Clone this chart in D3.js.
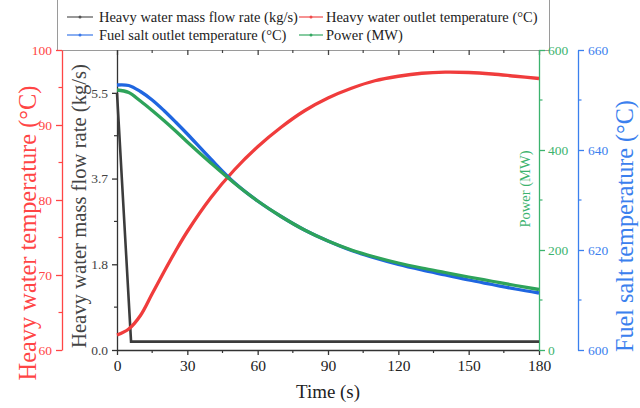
<!DOCTYPE html>
<html>
<head>
<meta charset="utf-8">
<script src="https://cdn.jsdelivr.net/npm/d3@7/dist/d3.min.js"></script>
<style>
  html, body { margin: 0; padding: 0; background: #fff; }
  svg { display: block; font-family: "Liberation Serif", "Times New Roman", serif; }
</style>
</head>
<body>
<svg id="chart" width="640" height="408"></svg>
<script>
// ---- data ----
const time = [0, 5, 10, 15, 20, 25, 30, 40, 50, 60, 70, 80, 90, 100, 110, 120, 130, 140, 150, 160, 170, 180];
const fuelSaltTemp = [653.0, 652.9, 651.7, 650.0, 647.9, 645.6, 643.2, 638.2, 633.5, 629.8, 626.7, 624.0, 621.8, 619.9, 618.4, 617.1, 616.0, 615.0, 614.0, 613.1, 612.2, 611.4];
const power = [520, 515, 498, 479, 459, 438, 416, 374, 334, 298, 267, 240, 218, 200, 186, 174, 164, 155, 146, 137.5, 129, 121];
const heavyWaterTemp = [62.0, 62.8, 64.6, 67.5, 70.4, 73.2, 75.8, 80.3, 84.0, 87.1, 89.7, 91.9, 93.6, 94.9, 95.9, 96.5, 96.9, 97.05, 97.0, 96.8, 96.5, 96.2];
const flowTime = [0, 6, 180];
const flowRate = [5.5, 0.18, 0.18];

const timeTicks = [0, 30, 60, 90, 120, 150, 180];
const timeMinor = [15, 45, 75, 105, 135, 165];
const redTicks = [60, 70, 80, 90, 100];
const redMinor = [65, 75, 85, 95];
const flowTicks = [0, 11/6, 22/6, 5.5];
const flowMinor = [11/12, 33/12, 55/12];
const powerTicks = [0, 200, 400, 600];
const powerMinor = [100, 300, 500];
const saltTicks = [600, 620, 640, 660];
const saltMinor = [610, 630, 650];

const legendItems = [
  {label: "Heavy water mass flow rate (kg/s)", color: "#555555"},
  {label: "Heavy water outlet temperature (°C)", color: "#f04a4a"},
  {label: "Fuel salt outlet temperature (°C)", color: "#3a78e8"},
  {label: "Power (MW)", color: "#35a862"}
];

// ---- colors ----
const cRed = "#f03c3c", cBlue = "#1f66e0", cGreen = "#2ea35a", cBlack = "#3c3c3c";
const aRed = "#ff4545", aBlue = "#3b80ee", aGreen = "#3cb36e", aBlack = "#333333";

const svg = d3.select("#chart");
const L = 117, R = 539, T = 50, B = 350;

const x = d3.scaleLinear().domain([0, 180]).range([L, R]);
const yRed = d3.scaleLinear().domain([60, 100]).range([B, T]);
const yFlow = d3.scaleLinear().domain([0, 3.5 * 11/6]).range([B, T]);
const yPow = d3.scaleLinear().domain([0, 600]).range([B, T]);
const ySalt = d3.scaleLinear().domain([600, 660]).range([B, T]);

function fit(sel, target) {
  const w = sel.node().getComputedTextLength();
  const fs = parseFloat(sel.attr("font-size"));
  if (w > 0) sel.attr("font-size", (fs * target / w).toFixed(2));
  return sel;
}

// legend box
svg.append("rect").attr("x", 57.5).attr("y", -5).attr("width", 492).attr("height", 55.5)
  .attr("fill", "#fff").attr("stroke", "#9a9a9a").attr("stroke-width", 1);

function axisStyle(g, color) {
  g.select(".domain").attr("stroke", color).attr("stroke-width", 1.3);
  g.selectAll(".tick line").attr("stroke", color).attr("stroke-width", 1.3);
  g.selectAll(".tick text").attr("fill", color).attr("font-family", "Liberation Serif, serif");
}
function minorTicks(g, scale, vals, orient, len, color) {
  g.selectAll(null).data(vals).enter().append("line")
    .attr("stroke", color).attr("stroke-width", 1.2)
    .each(function(d) {
      const s = d3.select(this);
      const p = scale(d);
      if (orient === "left") s.attr("x1", 0).attr("x2", -len).attr("y1", p).attr("y2", p);
      if (orient === "right") s.attr("x1", 0).attr("x2", len).attr("y1", p).attr("y2", p);
      if (orient === "bottom" || orient === "top") s.attr("y1", 0).attr("y2", len).attr("x1", p).attr("x2", p);
    });
}

// top frame with inward ticks
const gTop = svg.append("g").attr("transform", `translate(0,${T})`)
  .call(d3.axisBottom(x).tickValues(timeTicks).tickSize(5).tickSizeOuter(0).tickFormat(""));
axisStyle(gTop, "#444");
gTop.select(".domain").remove();
minorTicks(gTop, x, timeMinor, "top", 3, "#444");

// bottom axis
const gBot = svg.append("g").attr("transform", `translate(0,${B})`)
  .call(d3.axisBottom(x).tickValues(timeTicks).tickSize(5).tickSizeOuter(0).tickPadding(5));
axisStyle(gBot, aBlack);
gBot.selectAll(".tick text").attr("font-size", 15.5).attr("fill", "#222");
minorTicks(gBot, x, timeMinor, "bottom", 3, aBlack);

// red axis (left outer)
const gRed = svg.append("g").attr("transform", `translate(62,0)`)
  .call(d3.axisLeft(yRed).tickValues(redTicks).tickSize(6).tickSizeOuter(0).tickPadding(4));
axisStyle(gRed, aRed);
gRed.selectAll(".tick text").attr("font-size", 13.5);
minorTicks(gRed, yRed, redMinor, "left", 3.5, aRed);

// black flow axis
const gFlow = svg.append("g").attr("transform", `translate(${L},0)`)
  .call(d3.axisLeft(yFlow).tickValues(flowTicks).tickSize(5).tickSizeOuter(0).tickPadding(4).tickFormat(d3.format(".1f")));
axisStyle(gFlow, aBlack);
gFlow.selectAll(".tick text").attr("font-size", 13.5).attr("fill", "#444");
minorTicks(gFlow, yFlow, flowMinor, "left", 3, aBlack);

// green power axis
const gPow = svg.append("g").attr("transform", `translate(${R},0)`)
  .call(d3.axisRight(yPow).tickValues(powerTicks).tickSize(6).tickSizeOuter(0).tickPadding(3));
axisStyle(gPow, aGreen);
gPow.selectAll(".tick text").attr("font-size", 13.5);
minorTicks(gPow, yPow, powerMinor, "right", 3.5, aGreen);

// blue salt axis
const gSalt = svg.append("g").attr("transform", `translate(578,0)`)
  .call(d3.axisRight(ySalt).tickValues(saltTicks).tickSize(6).tickSizeOuter(0).tickPadding(4));
axisStyle(gSalt, aBlue);
gSalt.selectAll(".tick text").attr("font-size", 13.5);
minorTicks(gSalt, ySalt, saltMinor, "right", 3.5, aBlue);

// lines
const mk = (xs, ys, yS, curve) => d3.line().x((d, i) => x(xs[i])).y(d => yS(d)).curve(curve)(ys);
svg.append("path").attr("d", mk(flowTime, flowRate, yFlow, d3.curveLinear))
  .attr("fill", "none").attr("stroke", cBlack).attr("stroke-width", 2.6);
svg.append("path").attr("d", mk(time, heavyWaterTemp, yRed, d3.curveCatmullRom.alpha(0.5)))
  .attr("fill", "none").attr("stroke", cRed).attr("stroke-width", 3.3);
svg.append("path").attr("d", mk(time, fuelSaltTemp, ySalt, d3.curveCatmullRom.alpha(0.5)))
  .attr("fill", "none").attr("stroke", cBlue).attr("stroke-width", 3.3);
svg.append("path").attr("d", mk(time, power, yPow, d3.curveCatmullRom.alpha(0.5)))
  .attr("fill", "none").attr("stroke", cGreen).attr("stroke-width", 3.3);

// axis titles (centred on their column with dominant-baseline central)
function vTitle(cx, cy, txt, color, target) {
  const t = svg.append("text").attr("transform", `translate(${cx},${cy}) rotate(-90)`)
    .attr("text-anchor", "middle").attr("dominant-baseline", "central")
    .attr("font-size", 20).attr("fill", color).text(txt);
  fit(t, target);
}
vTitle(27, 233, "Heavy water temperature (°C)", aRed, 295);
vTitle(79, 206, "Heavy water mass flow rate (kg/s)", "#444", 284);
vTitle(525, 189, "Power (MW)", aGreen, 77);
vTitle(624, 226, "Fuel salt temperature (°C)", aBlue, 252);
const tt = svg.append("text").attr("x", 328).attr("y", 398)
  .attr("text-anchor", "middle").attr("font-size", 20).attr("fill", "#222")
  .text("Time (s)");
fit(tt, 64);

// legend entries
const legPos = [[67, 17], [299, 17], [67, 35], [299, 35]];
let legFs = null;
legendItems.forEach((it, i) => {
  const [lx, ly] = legPos[i];
  const len = i % 2 === 0 ? 26 : 24;
  svg.append("line").attr("x1", lx).attr("x2", lx + len).attr("y1", ly).attr("y2", ly)
    .attr("stroke", it.color).attr("stroke-width", 1.2);
  svg.append("circle").attr("cx", lx + len / 2).attr("cy", ly).attr("r", 1.5).attr("fill", it.color);
  const t = svg.append("text").attr("x", i % 2 === 0 ? lx + len + 6 : lx + len + 3)
    .attr("font-size", 14).attr("fill", "#222").text(it.label);
  if (legFs === null) { fit(t, 199); legFs = parseFloat(t.attr("font-size")); }
  else t.attr("font-size", legFs);
  t.attr("y", ly + legFs * 0.33);
});
</script>
</body>
</html>
